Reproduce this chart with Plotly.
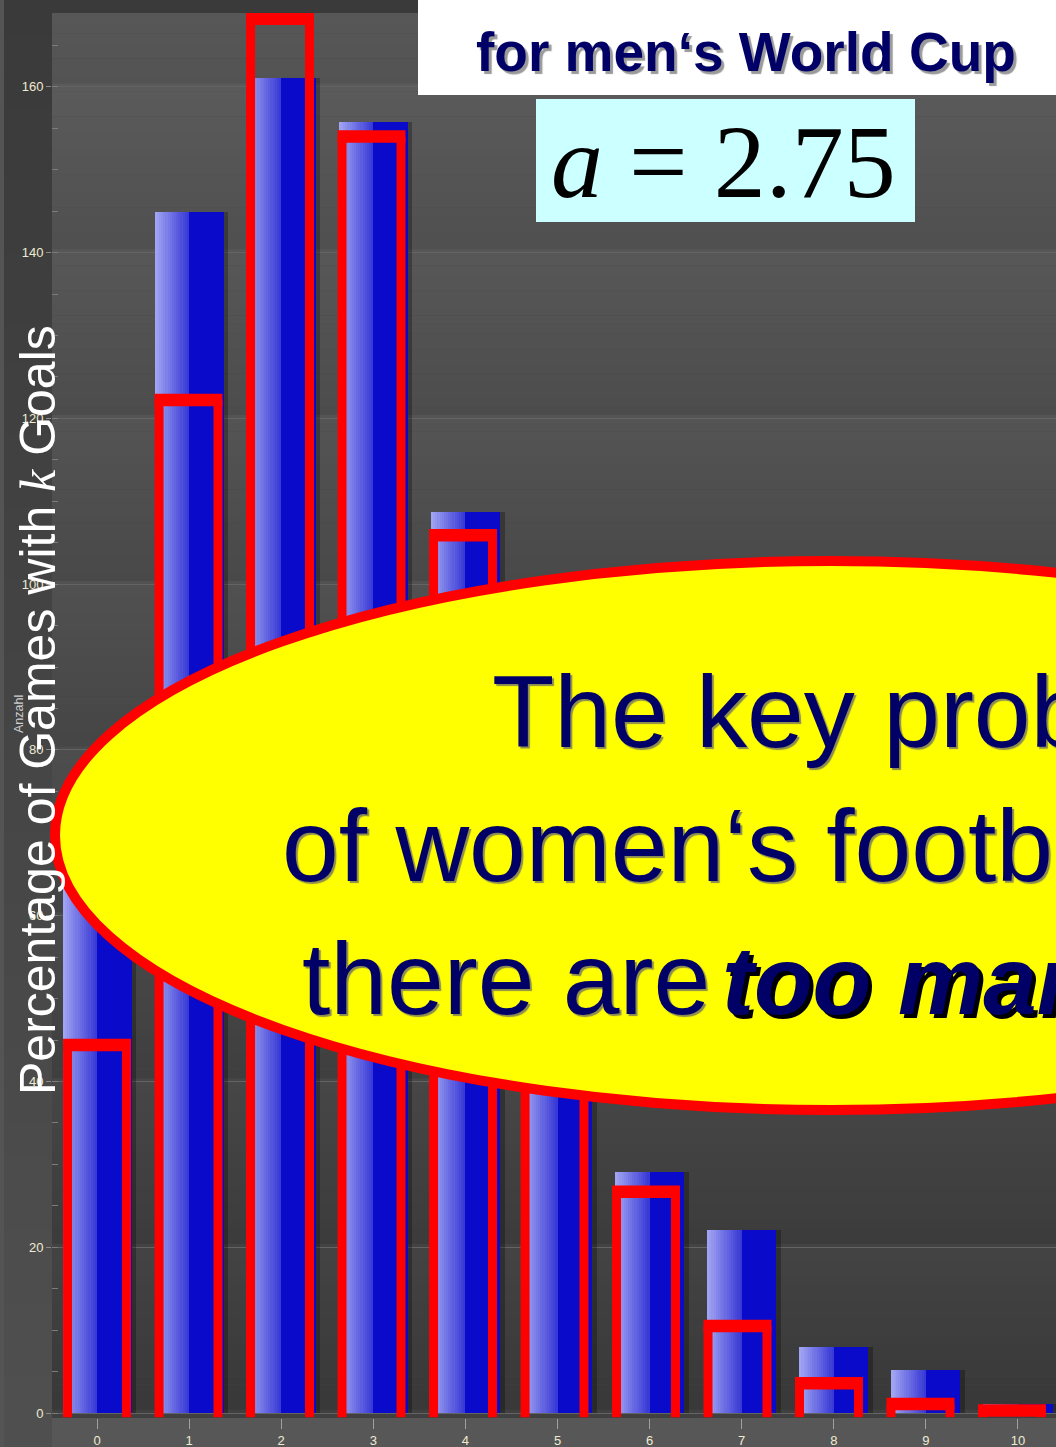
import plotly.graph_objects as go

# ---- data ---------------------------------------------------------------
goals = list(range(11))
tick_labels = [str(k) for k in goals]
observed = [68.0, 144.9, 161.0, 155.8, 108.7, 57.0, 29.1, 22.1, 8.0, 5.2, 1.1]
expected = [44.4, 122.2, 168.2, 154.0, 105.9, 58.2, 26.7, 10.5, 3.6, 1.1, 0.3]
y_ticks = [0, 20, 40, 60, 80, 100, 120, 140, 160]

# ---- geometry -----------------------------------------------------------
W, H = 1056, 1447
ML, MR, MT, MB = 52, 0, 13, 29
X_RANGE = [-0.489, 10.413]
Y_RANGE = [-0.6, 168.9]

SANS = "Liberation Sans, Arial, Helvetica, sans-serif"
SERIF = "Liberation Serif, Times New Roman, serif"
NAVY = "#000066"


def px(x):
    """pixel column -> paper x"""
    return (x - ML) / (W - ML - MR)


def py(y):
    """pixel row -> paper y"""
    return (H - MB - y) / (H - MT - MB)


def grey(v):
    v = int(max(0, min(255, round(v))))
    return f"rgb({v},{v},{v})"


def lerp(a, b, t):
    return tuple(a[i] + (b[i] - a[i]) * t for i in range(3))


fig = go.Figure()

# ---- blue bars with a left-to-right shading ------------------------------
BAR_W = 0.75
N_GRAD = 16
light, mid, dark = (164, 168, 243), (54, 54, 212), (10, 10, 202)
step = BAR_W / 2 / N_GRAD
for j in range(N_GRAD):
    c = lerp(light, mid, (j + 0.5) / N_GRAD)
    fig.add_bar(
        x=goals, y=observed, width=step * 1.6, offset=-BAR_W / 2 + j * step,
        marker=dict(color=f"rgb({c[0]:.0f},{c[1]:.0f},{c[2]:.0f})", line_width=0),
        hoverinfo="skip", showlegend=False,
    )
fig.add_bar(
    x=goals, y=observed, width=BAR_W / 2, offset=0,
    marker=dict(color=f"rgb{dark}", line_width=0),
    name="observed", showlegend=False,
)
# soft shadow along the right edge
fig.add_bar(
    x=goals, y=observed, width=0.05, offset=BAR_W / 2,
    marker=dict(color="rgba(0,0,0,0.28)", line_width=0),
    hoverinfo="skip", showlegend=False,
)

# ---- red open outlines for the expected counts ---------------------------
HALF = 0.32       # centre of the side strokes
CAP = 0.369       # outer reach of the top stroke
DRIFT = -0.0065   # outlines sit a touch left of the ticks further out
side_x, side_y, top_x, top_y = [], [], [], []
for k, v in zip(goals, expected):
    c = k + DRIFT * k
    side_x += [c - HALF, c - HALF, None, c + HALF, c + HALF, None]
    side_y += [-0.5, v, None, -0.5, v, None]
    top_x += [c - CAP, c + CAP, None]
    top_y += [v, v, None]
fig.add_scatter(x=side_x, y=side_y, mode="lines",
                line=dict(color="#ff0000", width=9), showlegend=False, hoverinfo="skip")
fig.add_scatter(x=top_x, y=top_y, mode="lines",
                line=dict(color="#ff0000", width=12.5), name="expected",
                showlegend=False, hoverinfo="skip")

shapes = []

# ---- backgrounds ---------------------------------------------------------
# outer margin: darker at the top, lighter lower down
N_M = 40
for i in range(N_M):
    y0 = H * i / N_M
    y1 = H * (i + 1) / N_M + 1
    shapes.append(dict(type="rect", xref="paper", yref="paper", layer="below",
                       x0=px(0), x1=px(W), y0=py(y1), y1=py(y0),
                       fillcolor=grey(58 + 22 * i / N_M), line_width=0))
shapes.append(dict(type="rect", xref="paper", yref="paper", layer="below",
                   x0=px(0), x1=px(4), y0=py(H), y1=py(0),
                   fillcolor=grey(84), line_width=0))
shapes.append(dict(type="rect", xref="paper", yref="paper", layer="below",
                   x0=px(52), x1=px(W), y0=py(H), y1=py(1414),
                   fillcolor=grey(87), line_width=0))

# plot area: each 20-unit band fades downwards, the whole panel darkens lower down
yv = Y_RANGE[0]
while yv < Y_RANGE[1]:
    y_next = min(yv + 1.0, Y_RANGE[1])
    mid_v = (yv + y_next) / 2
    base = 60 + 28 * mid_v / 168.9
    frac = (mid_v % 20) / 20
    shapes.append(dict(type="rect", xref="paper", yref="y", layer="below",
                       x0=0, x1=1, y0=yv, y1=y_next + 0.05,
                       fillcolor=grey(base - 4 + 8 * frac), line_width=0))
    yv = y_next

# ---- overlays ------------------------------------------------------------
shapes.append(dict(type="rect", xref="paper", yref="paper", layer="above",
                   x0=px(418), x1=px(1080), y0=py(95), y1=py(-10),
                   fillcolor="#ffffff", line_width=0))
shapes.append(dict(type="rect", xref="paper", yref="paper", layer="above",
                   x0=px(536), x1=px(915), y0=py(222), y1=py(99),
                   fillcolor="#ccffff", line_width=0))
shapes.append(dict(type="circle", xref="paper", yref="paper", layer="above",
                   x0=px(55), x1=px(1607), y0=py(1110), y1=py(561),
                   fillcolor="#ffff00", line=dict(color="#ff0000", width=10)))


def mid_from_baseline(baseline, size):
    return baseline - 0.3465 * size


annotations = []
annotations.append(dict(
    text="for men‘s World Cup", xref="paper", yref="paper",
    x=px(474), y=py(mid_from_baseline(71, 55)), xanchor="left", yanchor="middle",
    showarrow=False,
    font=dict(family=SANS, size=55, color=NAVY, weight="bold",
              shadow="3px 3px 1px #9a9a9a"),
))
annotations.append(dict(
    text="<i>a</i> = 2.75", xref="paper", yref="paper",
    x=px(723), y=py(162), xanchor="center", yanchor="middle", showarrow=False,
    font=dict(family=SERIF, size=104, color="#000000"),
))

ELL = 102
SHADE = "2px 2px 1px #8c8c50"
annotations.append(dict(
    text="The key problem", xref="paper", yref="paper",
    x=px(490), y=py(mid_from_baseline(747, ELL)), xanchor="left", yanchor="middle",
    showarrow=False,
    font=dict(family=SANS, size=ELL, color=NAVY, shadow=SHADE),
))
annotations.append(dict(
    text="of women‘s football:", xref="paper", yref="paper",
    x=px(280), y=py(mid_from_baseline(881, ELL)), xanchor="left", yanchor="middle",
    showarrow=False,
    font=dict(family=SANS, size=ELL, color=NAVY, shadow=SHADE),
))
annotations.append(dict(
    text="there are", xref="paper", yref="paper",
    x=px(300), y=py(mid_from_baseline(1014, ELL)), xanchor="left", yanchor="middle",
    showarrow=False,
    font=dict(family=SANS, size=ELL, color=NAVY, shadow=SHADE),
))
annotations.append(dict(
    text="too many goals!", xref="paper", yref="paper",
    x=px(720), y=py(mid_from_baseline(1014, 96)), xanchor="left", yanchor="middle",
    showarrow=False,
    font=dict(family=SANS, size=96, color=NAVY, weight="bold", style="italic",
              shadow="4px 4px 0px #000000"),
))

# axis title
annotations.append(dict(
    text="Percentage of Games with\u00a0<span style=\"font-family:'Liberation Serif'\"><i>k</i></span>\u00a0Goals",
    xref="paper", yref="paper", x=px(38), y=py(710), xanchor="center", yanchor="middle",
    textangle=-90, showarrow=False,
    font=dict(family=SANS, size=50, color="#ffffff"),
))
annotations.append(dict(
    text="Anzahl", xref="paper", yref="paper", x=px(19), y=py(714),
    xanchor="center", yanchor="middle", textangle=-90, showarrow=False,
    font=dict(family=SANS, size=12.5, color="#cfcfcf"),
))

TICK_FONT = dict(family=SANS, size=13, color="#efebd2")

fig.update_layout(
    width=W, height=H,
    margin=dict(l=ML, r=MR, t=MT, b=MB, pad=0),
    paper_bgcolor="#464646", plot_bgcolor="#4a4a4a",
    barmode="overlay", bargap=0,
    showlegend=False,
    shapes=shapes, annotations=annotations,
    xaxis=dict(
        range=X_RANGE, tickvals=goals, ticktext=tick_labels,
        ticks="outside", ticklen=10, tickcolor="#a0a0a0", tickwidth=1,
        showgrid=False, zeroline=False, showline=False,
        tickfont=TICK_FONT, fixedrange=True,
    ),
    yaxis=dict(
        range=Y_RANGE, tickvals=y_ticks, ticks="outside", ticklen=5,
        tickcolor="#8c8c8c", tickwidth=1,
        showgrid=True, gridcolor="#646464", gridwidth=1,
        zeroline=False, showline=False, tickfont=TICK_FONT,
        minor=dict(dtick=5, ticks="inside", ticklen=6, tickcolor="#7c7c7c",
                   showgrid=False),
        fixedrange=True,
    ),
)

fig.write_html("out.html")
